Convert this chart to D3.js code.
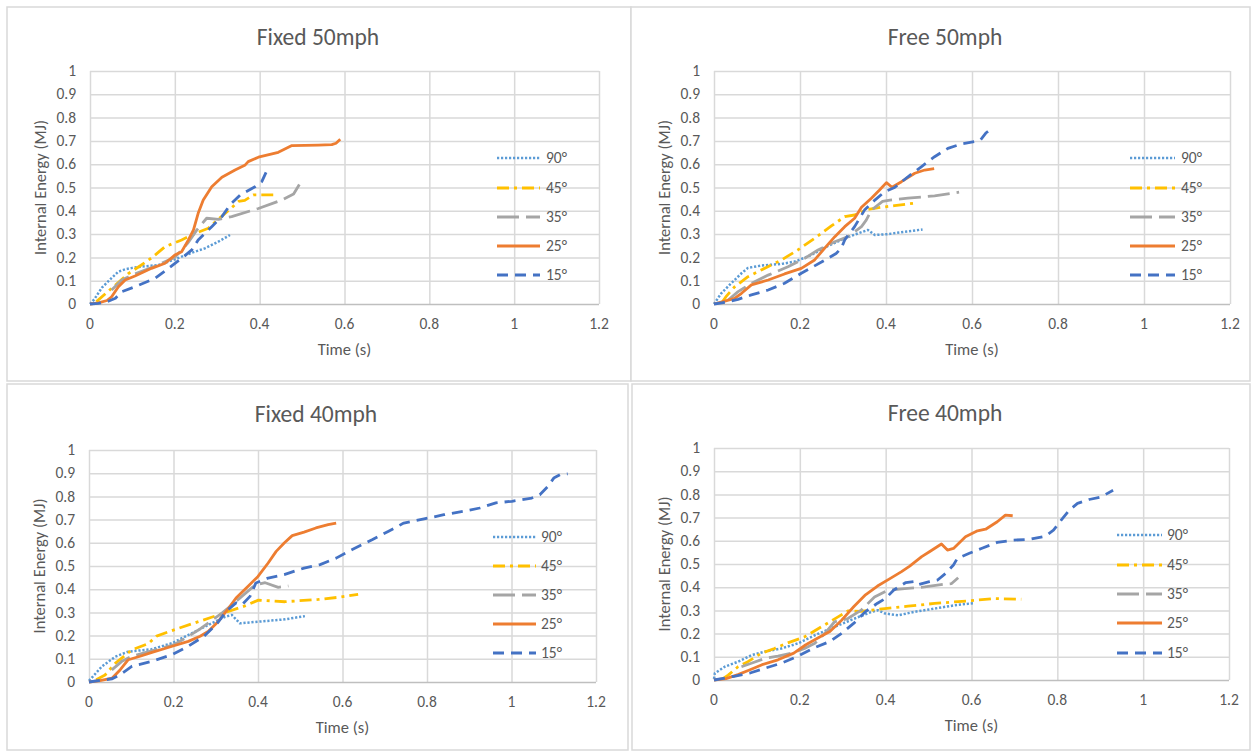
<!DOCTYPE html>
<html><head><meta charset="utf-8">
<script src="https://cdn.jsdelivr.net/npm/d3@7"></script>
<style>
html,body{margin:0;padding:0;background:#fff;}
text{font-family:Carlito,Calibri,Lato,"Open Sans",sans-serif;fill:#595959;}
</style></head>
<body><svg id="c" width="1252" height="752"></svg>
<script>
// ---------- tick labels ----------
const xTickLabels = ["0","0.2","0.4","0.6","0.8","1","1.2"];
const yTickLabels = ["0","0.1","0.2","0.3","0.4","0.5","0.6","0.7","0.8","0.9","1"];
const seriesNames = ["90°","45°","35°","25°","15°"];
const titles = ["Fixed 50mph","Free 50mph","Fixed 40mph","Free 40mph"];

// ---------- Fixed 50mph: [time (s), internal energy (MJ)] ----------
const fixed50_90 = [[0,0],[0.01,0.02],[0.028,0.07],[0.05,0.11],[0.067,0.139],[0.085,0.15],[0.1,0.155],[0.13,0.162],[0.161,0.167],[0.19,0.185],[0.216,0.203],[0.24,0.22],[0.271,0.239],[0.3,0.265],[0.33,0.296]];
const fixed50_45 = [[0.015,0.01],[0.04,0.05],[0.062,0.085],[0.09,0.13],[0.115,0.16],[0.147,0.2],[0.177,0.246],[0.216,0.275],[0.248,0.303],[0.279,0.325],[0.3,0.36],[0.326,0.4],[0.35,0.44],[0.365,0.445],[0.385,0.468],[0.432,0.468]];
const fixed50_35 = [[0.051,0.06],[0.075,0.103],[0.1,0.125],[0.15,0.16],[0.2,0.2],[0.23,0.26],[0.252,0.318],[0.275,0.368],[0.303,0.363],[0.334,0.375],[0.397,0.41],[0.452,0.446],[0.48,0.472],[0.5,0.532]];
const fixed50_25 = [[0,0],[0.02,0.005],[0.04,0.015],[0.051,0.031],[0.067,0.074],[0.083,0.103],[0.106,0.12],[0.145,0.153],[0.177,0.175],[0.2,0.21],[0.216,0.224],[0.232,0.275],[0.244,0.318],[0.255,0.389],[0.267,0.446],[0.287,0.503],[0.311,0.544],[0.342,0.575],[0.366,0.597],[0.373,0.611],[0.397,0.63],[0.444,0.651],[0.476,0.68],[0.538,0.682],[0.57,0.684],[0.58,0.69],[0.59,0.707]];
const fixed50_15 = [[0,0],[0.02,0.003],[0.043,0.012],[0.06,0.025],[0.075,0.053],[0.106,0.074],[0.153,0.11],[0.185,0.153],[0.216,0.196],[0.24,0.232],[0.255,0.275],[0.287,0.332],[0.311,0.375],[0.33,0.425],[0.354,0.468],[0.389,0.503],[0.405,0.525],[0.42,0.585]];

// ---------- Free 50mph ----------
const free50_90 = [[0,0],[0.017,0.046],[0.04,0.089],[0.064,0.132],[0.079,0.155],[0.11,0.165],[0.157,0.172],[0.188,0.182],[0.226,0.21],[0.265,0.249],[0.304,0.282],[0.335,0.303],[0.358,0.318],[0.374,0.296],[0.405,0.3],[0.443,0.31],[0.485,0.32]];
const free50_45 = [[0.02,0.01],[0.029,0.034],[0.048,0.074],[0.079,0.117],[0.11,0.146],[0.157,0.189],[0.195,0.232],[0.234,0.282],[0.273,0.335],[0.304,0.375],[0.327,0.382],[0.358,0.406],[0.389,0.415],[0.42,0.422],[0.463,0.432]];
const free50_35 = [[0.033,0.017],[0.056,0.053],[0.087,0.089],[0.126,0.124],[0.172,0.16],[0.211,0.196],[0.242,0.232],[0.281,0.267],[0.312,0.289],[0.343,0.332],[0.354,0.36],[0.366,0.403],[0.392,0.44],[0.409,0.446],[0.451,0.454],[0.513,0.464],[0.57,0.48]];
const free50_25 = [[0,0],[0.021,0.01],[0.048,0.024],[0.064,0.046],[0.087,0.082],[0.126,0.103],[0.164,0.129],[0.203,0.153],[0.234,0.189],[0.257,0.239],[0.281,0.289],[0.304,0.332],[0.327,0.368],[0.343,0.415],[0.366,0.454],[0.385,0.489],[0.401,0.521],[0.414,0.501],[0.436,0.525],[0.467,0.561],[0.49,0.575],[0.512,0.581]];
const free50_15 = [[0,0],[0.03,0.008],[0.056,0.02],[0.087,0.039],[0.126,0.06],[0.164,0.089],[0.203,0.132],[0.25,0.18],[0.284,0.217],[0.296,0.239],[0.304,0.275],[0.327,0.332],[0.35,0.403],[0.374,0.446],[0.397,0.482],[0.42,0.5],[0.451,0.546],[0.482,0.589],[0.513,0.632],[0.544,0.668],[0.575,0.687],[0.606,0.697],[0.62,0.705],[0.633,0.735],[0.64,0.745]];

// ---------- Fixed 40mph ----------
const fixed40_90 = [[0,0.005],[0.03,0.066],[0.062,0.109],[0.093,0.131],[0.148,0.141],[0.196,0.167],[0.251,0.217],[0.29,0.253],[0.322,0.281],[0.338,0.289],[0.357,0.253],[0.401,0.26],[0.464,0.27],[0.511,0.284]];
const fixed40_45 = [[0.017,0.01],[0.038,0.03],[0.062,0.08],[0.101,0.138],[0.14,0.165],[0.16,0.198],[0.211,0.231],[0.29,0.279],[0.369,0.328],[0.401,0.353],[0.43,0.35],[0.464,0.346],[0.543,0.356],[0.59,0.365],[0.637,0.378]];
const fixed40_35 = [[0.054,0.052],[0.077,0.088],[0.1,0.11],[0.15,0.135],[0.2,0.16],[0.227,0.188],[0.259,0.224],[0.314,0.296],[0.338,0.332],[0.361,0.368],[0.393,0.418],[0.417,0.428],[0.448,0.408],[0.472,0.414]];
const fixed40_25 = [[0,0],[0.026,0.006],[0.055,0.017],[0.074,0.053],[0.093,0.096],[0.121,0.111],[0.149,0.128],[0.197,0.154],[0.235,0.175],[0.263,0.197],[0.282,0.218],[0.306,0.261],[0.325,0.305],[0.348,0.362],[0.376,0.412],[0.4,0.455],[0.424,0.513],[0.443,0.563],[0.462,0.599],[0.481,0.631],[0.509,0.646],[0.537,0.664],[0.566,0.678],[0.585,0.685]];
const fixed40_15 = [[0,0],[0.055,0.014],[0.074,0.032],[0.102,0.068],[0.149,0.089],[0.197,0.118],[0.235,0.154],[0.272,0.197],[0.301,0.247],[0.325,0.305],[0.348,0.341],[0.362,0.333],[0.381,0.369],[0.395,0.427],[0.424,0.448],[0.462,0.463],[0.509,0.491],[0.547,0.506],[0.585,0.534],[0.622,0.57],[0.67,0.613],[0.708,0.649],[0.745,0.685],[0.793,0.703],[0.84,0.721],[0.887,0.736],[0.925,0.75],[0.963,0.772],[1.001,0.779],[1.048,0.793],[1.067,0.807],[1.086,0.843],[1.1,0.879],[1.115,0.894],[1.133,0.897]];

// ---------- Free 40mph ----------
const free40_90 = [[0,0.005],[0.002,0.029],[0.025,0.057],[0.056,0.079],[0.087,0.107],[0.118,0.122],[0.157,0.136],[0.196,0.158],[0.235,0.193],[0.281,0.229],[0.328,0.265],[0.367,0.294],[0.382,0.301],[0.398,0.287],[0.429,0.279],[0.468,0.294],[0.514,0.308],[0.561,0.322],[0.607,0.332]];
const free40_45 = [[0.02,0.005],[0.033,0.021],[0.056,0.057],[0.079,0.079],[0.11,0.115],[0.141,0.136],[0.172,0.16],[0.211,0.186],[0.25,0.229],[0.289,0.272],[0.312,0.298],[0.343,0.296],[0.398,0.308],[0.452,0.318],[0.514,0.33],[0.592,0.341],[0.654,0.351],[0.716,0.348]];
const free40_35 = [[0.064,0.057],[0.087,0.072],[0.118,0.093],[0.149,0.103],[0.18,0.115],[0.211,0.136],[0.235,0.158],[0.258,0.2],[0.281,0.251],[0.312,0.265],[0.343,0.301],[0.374,0.358],[0.405,0.387],[0.444,0.394],[0.491,0.401],[0.538,0.413],[0.553,0.415],[0.569,0.441]];
const free40_25 = [[0,0],[0.028,0.006],[0.056,0.023],[0.084,0.044],[0.112,0.066],[0.149,0.087],[0.186,0.116],[0.214,0.152],[0.242,0.181],[0.27,0.209],[0.298,0.259],[0.326,0.317],[0.353,0.367],[0.381,0.405],[0.409,0.436],[0.437,0.467],[0.456,0.491],[0.484,0.532],[0.502,0.553],[0.53,0.586],[0.544,0.56],[0.558,0.567],[0.586,0.617],[0.614,0.643],[0.633,0.65],[0.66,0.682],[0.679,0.711],[0.696,0.708]];
const free40_15 = [[0,0],[0.047,0.016],[0.084,0.03],[0.121,0.052],[0.158,0.073],[0.195,0.102],[0.233,0.138],[0.27,0.166],[0.298,0.202],[0.326,0.245],[0.353,0.295],[0.381,0.331],[0.4,0.352],[0.419,0.388],[0.447,0.42],[0.465,0.424],[0.474,0.41],[0.502,0.424],[0.521,0.431],[0.54,0.46],[0.558,0.496],[0.567,0.524],[0.595,0.546],[0.623,0.567],[0.66,0.593],[0.698,0.603],[0.735,0.606],[0.772,0.62],[0.791,0.646],[0.809,0.689],[0.828,0.732],[0.847,0.761],[0.874,0.778],[0.902,0.789],[0.93,0.818]];

// ---------- styles ----------
const seriesColors = ["#5B9BD5","#FFC000","#A5A5A5","#ED7D31","#4472C4"];
const seriesDash = ["2.2 1.8","12 5 3 5","22 7",null,"11 7"];
const seriesWidth = [2.5,2.8,2.8,2.8,2.8];

const panelData = [
  [fixed50_90,fixed50_45,fixed50_35,fixed50_25,fixed50_15],
  [free50_90,free50_45,free50_35,free50_25,free50_15],
  [fixed40_90,fixed40_45,fixed40_35,fixed40_25,fixed40_15],
  [free40_90,free40_45,free40_35,free40_25,free40_15]
];

// layout (pixels)
const layout = [
  {frame:[7,7,624,374], l:90, r:599, t:71, b:304, tx:318, ty:37, lx0:497, lx1:540, ltx:546, ly:[158,188,217,246,275]},
  {frame:[631,7,619,374], l:714, r:1230, t:71, b:304, tx:945, ty:37, lx0:1130, lx1:1175, ltx:1181, ly:[158,188,217,246,275]},
  {frame:[7,384,621,366], l:89, r:596, t:450, b:682, tx:316, ty:414, lx0:493, lx1:536, ltx:541, ly:[537,566,595,624,653]},
  {frame:[632,384,618,366], l:714, r:1229, t:448, b:680, tx:945, ty:413, lx0:1117, lx1:1162, ltx:1167, ly:[535,565,594,623,653]}
];

const svg = d3.select("#c");
const TICK_FS = 15.5, TITLE_FS = 23.5, AX_FS = 16.5, LEG_FS = 15.5;

layout.forEach((L, pi) => {
  const g = svg.append("g");
  g.append("rect").attr("x",L.frame[0]).attr("y",L.frame[1]).attr("width",L.frame[2]).attr("height",L.frame[3])
    .attr("fill","#fff").attr("stroke","#d9d9d9").attr("stroke-width",1.5);

  const x = d3.scaleLinear().domain([0,1.2]).range([L.l, L.r]);
  const y = d3.scaleLinear().domain([0,1]).range([L.b, L.t]);
  const xVals = xTickLabels.map(Number);
  const yVals = yTickLabels.map(Number);

  // gridlines via axes
  const gx = g.append("g").attr("transform",`translate(0,${L.b})`)
    .call(d3.axisBottom(x).tickValues(xVals).tickSize(-(L.b-L.t)).tickFormat(""));
  const gy = g.append("g").attr("transform",`translate(${L.l},0)`)
    .call(d3.axisLeft(y).tickValues(yVals).tickSize(-(L.r-L.l)).tickFormat(""));
  [gx,gy].forEach(a=>{ a.select(".domain").remove(); a.selectAll("line").attr("stroke","#d9d9d9").attr("stroke-width",1.5); });
  gy.selectAll(".tick").filter(d=>d===0).select("line").attr("stroke","#bfbfbf");

  // tick labels
  g.selectAll(".xl").data(xTickLabels).enter().append("text")
    .attr("x",d=>x(+d)).attr("y",L.b+20+0.33*TICK_FS).attr("text-anchor","middle")
    .attr("font-size",TICK_FS).text(d=>d);
  g.selectAll(".yl").data(yTickLabels).enter().append("text")
    .attr("x",L.l-14).attr("y",d=>y(+d)+0.33*TICK_FS).attr("text-anchor","end")
    .attr("font-size",TICK_FS).text(d=>d);

  // titles
  g.append("text").attr("x",L.tx).attr("y",L.ty+0.33*TITLE_FS).attr("text-anchor","middle")
    .attr("font-size",TITLE_FS).text(titles[pi]);
  g.append("text").attr("x",(L.l+L.r)/2).attr("y",L.b+46+0.33*AX_FS).attr("text-anchor","middle")
    .attr("font-size",AX_FS).text("Time (s)");
  const yc = (L.t+L.b)/2, xc = L.l-49;
  g.append("text").attr("transform",`translate(${xc+0.33*AX_FS},${yc}) rotate(-90)`)
    .attr("text-anchor","middle").attr("font-size",AX_FS).text("Internal Energy (MJ)");

  // series
  const line = d3.line().x(d=>x(d[0])).y(d=>y(d[1]));
  panelData[pi].forEach((data, si) => {
    const p = g.append("path").datum(data).attr("d",line).attr("fill","none")
      .attr("stroke",seriesColors[si]).attr("stroke-width",seriesWidth[si])
      .attr("stroke-linejoin","round");
    if (seriesDash[si]) p.attr("stroke-dasharray",seriesDash[si]);
  });

  // legend
  seriesNames.forEach((name, si) => {
    const ly = L.ly[si];
    const p = g.append("line").attr("x1",L.lx0).attr("x2",L.lx1).attr("y1",ly).attr("y2",ly)
      .attr("stroke",seriesColors[si]).attr("stroke-width",seriesWidth[si]);
    if (seriesDash[si]) p.attr("stroke-dasharray",seriesDash[si]);
    g.append("text").attr("x",L.ltx).attr("y",ly+0.33*LEG_FS).attr("font-size",LEG_FS).text(name);
  });
});
</script></body></html>
